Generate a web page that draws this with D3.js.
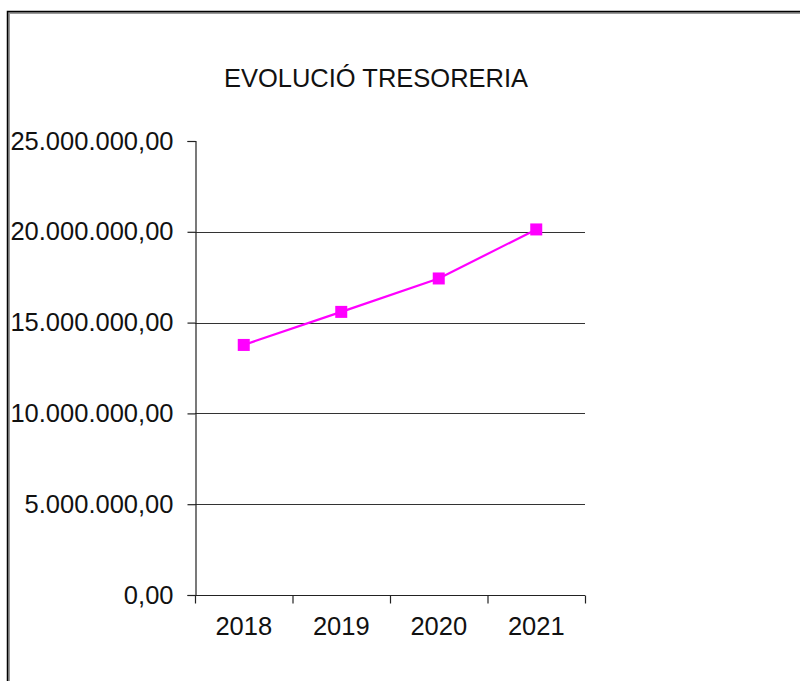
<!DOCTYPE html>
<html lang="ca">
<head>
<meta charset="UTF-8">
<title>Evolució tresoreria</title>
<script src="https://cdnjs.cloudflare.com/ajax/libs/d3/7.8.5/d3.min.js"></script>
<style>
    body { margin: 0; background: #fff; overflow: hidden; }
    svg { display: block; font-family: Arial, 'Liberation Sans', sans-serif; }
</style>
</head>
<body>
<svg id="chart" width="800" height="681"></svg>
<script>
    // dades llegides del gràfic
    const years = ["2018", "2019", "2020", "2021"];
    const treasury = [13770000, 15590000, 17430000, 20130000];
    const yTicks = [0, 5000000, 10000000, 15000000, 20000000, 25000000];

    const svg = d3.select("#chart");

    // marc exterior (surt per la dreta i per baix)
    svg.append("rect")
        .attr("x", 8.5).attr("y", 12.5)
        .attr("width", 900).attr("height", 900)
        .attr("fill", "none")
        .attr("stroke", "#999").attr("stroke-width", 3);
    svg.append("rect")
        .attr("x", 7.5).attr("y", 11.5)
        .attr("width", 900).attr("height", 900)
        .attr("fill", "none")
        .attr("stroke", "#000").attr("stroke-width", 1.5);

    const x = d3.scaleBand().domain(years).range([195, 585]).padding(0);
    const y = d3.scaleLinear().domain([0, 25000000]).range([595, 141]);

    const fmt = v => {
        const s = d3.format(",.2f")(v);
        return s.replace(/,/g, "#").replace(".", ",").replace(/#/g, ".");
    };

    // títol
    svg.append("text")
        .attr("x", 376).attr("y", 87)
        .attr("text-anchor", "middle")
        .attr("font-size", 25.5)
        .attr("fill", "#111")
        .text("EVOLUCIÓ TRESORERIA");

    // línies de graella
    svg.append("g")
        .selectAll("line")
        .data(yTicks.filter(d => d > 0 && d < 25000000))
        .join("line")
        .attr("x1", 195).attr("x2", 585)
        .attr("y1", d => Math.round(y(d)) + 0.5)
        .attr("y2", d => Math.round(y(d)) + 0.5)
        .attr("stroke", "#333").attr("stroke-width", 1.2);

    // eix Y
    const yAxis = svg.append("g")
        .attr("transform", "translate(195.5,0)")
        .call(d3.axisLeft(y).tickValues(yTicks).tickFormat(fmt).tickSize(8).tickPadding(14));
    yAxis.select(".domain").attr("stroke", "#222").attr("stroke-width", 1.2);
    yAxis.selectAll(".tick line").attr("stroke", "#222").attr("stroke-width", 1.2);
    yAxis.selectAll("text")
        .attr("font-size", 25.5)
        .attr("font-family", "Arial, 'Liberation Sans', sans-serif")
        .attr("fill", "#111");

    // eix X
    const xAxis = svg.append("g")
        .attr("transform", "translate(0,595.5)");
    xAxis.append("line")
        .attr("x1", 189).attr("x2", 585)
        .attr("stroke", "#222").attr("stroke-width", 1.2);
    xAxis.selectAll(".tk")
        .data(years.map(d => x(d)).concat([x.range()[1]]))
        .join("line")
        .attr("class", "tk")
        .attr("x1", d => d + 0.5).attr("x2", d => d + 0.5)
        .attr("y1", 0).attr("y2", 8)
        .attr("stroke", "#222").attr("stroke-width", 1.2);
    xAxis.selectAll("text")
        .data(years)
        .join("text")
        .attr("x", d => x(d) + x.bandwidth() / 2)
        .attr("y", 39)
        .attr("text-anchor", "middle")
        .attr("font-size", 25.5)
        .attr("fill", "#111")
        .text(d => d);

    // sèrie
    const pts = years.map((d, i) => ({ x: x(d) + x.bandwidth() / 2, y: y(treasury[i]) }));
    svg.append("path")
        .datum(pts)
        .attr("fill", "none")
        .attr("stroke", "#ff00ff")
        .attr("stroke-width", 2.2)
        .attr("d", d3.line().x(d => d.x).y(d => d.y));

    svg.append("g")
        .selectAll("rect")
        .data(pts)
        .join("rect")
        .attr("x", d => d.x - 6).attr("y", d => d.y - 6)
        .attr("width", 12).attr("height", 12)
        .attr("fill", "#ff00ff");
</script>
</body>
</html>
